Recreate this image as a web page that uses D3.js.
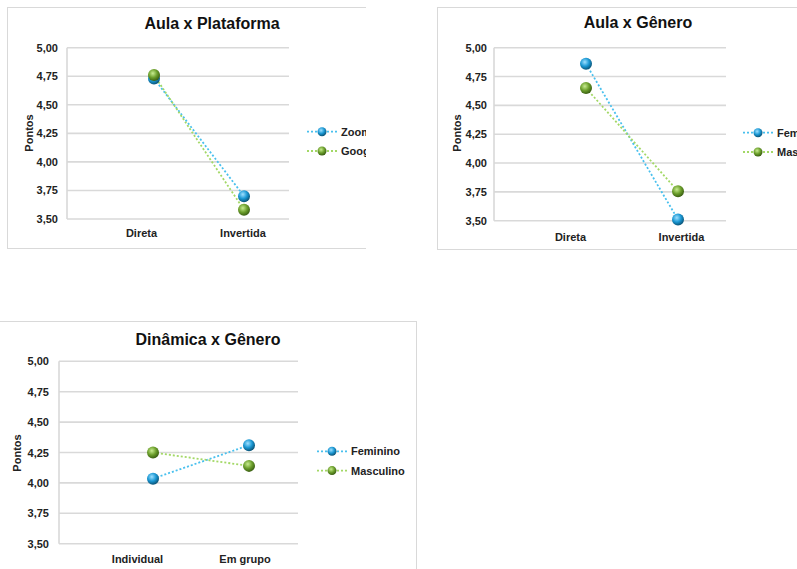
<!DOCTYPE html>
<html>
<head>
<meta charset="utf-8">
<script src="https://cdn.jsdelivr.net/npm/d3@7"></script>
<style>
  body { margin: 0; background: #fff; }
  svg { display: block; font-family: "Liberation Sans", Arial, sans-serif; }
</style>
</head>
<body>
<div id="chart"></div>
<script>
// dados
const yTicks = [3.5, 3.75, 4.0, 4.25, 4.5, 4.75, 5.0];

const aulaCats = ['Direta', 'Invertida'];
const dinCats = ['Individual', 'Em grupo'];

const plataformaNames = ['Zoom', 'Google Meet'];
const zoomVals = [4.73, 3.70];
const googleVals = [4.76, 3.58];

const generoNames = ['Feminino', 'Masculino'];
const femAula = [4.86, 3.51];
const mascAula = [4.65, 3.755];

const femDin = [4.035, 4.31];
const mascDin = [4.25, 4.14];

const W = 797, H = 569;
const fmt = d3.format('.2f');
const comma = (v) => fmt(v).replace('.', ',');

const svg = d3.select('#chart').append('svg')
    .attr('width', W)
    .attr('height', H);

// gradientes das esferas
const defs = svg.append('defs');
function sphere(id, hi, mid, lo) {
    const g = defs.append('radialGradient')
        .attr('id', id)
        .attr('cx', '40%').attr('cy', '35%').attr('r', '65%');
    g.append('stop').attr('offset', '0%').attr('stop-color', hi);
    g.append('stop').attr('offset', '55%').attr('stop-color', mid);
    g.append('stop').attr('offset', '100%').attr('stop-color', lo);
}
sphere('gBlue', '#9fe0ff', '#1b98d4', '#0a5478');
sphere('gGreen', '#c8ec90', '#6c9f2c', '#3a5f12');

const styles = [
    { line: '#49c0ee', fill: 'url(#gBlue)' },
    { line: '#a3d866', fill: 'url(#gGreen)' }
];

function drawChart(cfg, idx) {
    const clipId = 'clip' + idx;
    defs.append('clipPath').attr('id', clipId)
        .append('rect')
        .attr('x', cfg.clip[0]).attr('y', cfg.clip[1])
        .attr('width', cfg.clip[2]).attr('height', cfg.clip[3]);

    const g = svg.append('g').attr('clip-path', `url(#${clipId})`);

    // moldura
    g.append('rect')
        .attr('x', cfg.box[0] + 0.5).attr('y', cfg.box[1] + 0.5)
        .attr('width', cfg.box[2]).attr('height', cfg.box[3])
        .attr('fill', '#fff')
        .attr('stroke', '#d9d9d9');

    const y = d3.scaleLinear().domain([3.5, 5]).range([cfg.plot.bottom, cfg.plot.top]);
    const x = d3.scalePoint().domain(cfg.cats).range(cfg.pointX);
    const xLab = d3.scalePoint().domain(cfg.cats).range(cfg.labelX);

    // grade
    g.append('g').selectAll('line')
        .data(yTicks)
        .join('line')
        .attr('x1', cfg.plot.left).attr('x2', cfg.plot.right)
        .attr('y1', (d) => y(d)).attr('y2', (d) => y(d))
        .attr('stroke', '#d9d9d9')
        .attr('stroke-width', 1.6);

    g.append('line')
        .attr('x1', cfg.plot.left).attr('x2', cfg.plot.left)
        .attr('y1', cfg.plot.top).attr('y2', cfg.plot.bottom)
        .attr('stroke', '#d9d9d9')
        .attr('stroke-width', 1.6);

    // eixo Y
    const yAxis = g.append('g')
        .attr('transform', `translate(${cfg.plot.left},0)`)
        .call(d3.axisLeft(y).tickValues(yTicks).tickFormat(comma).tickSize(0).tickPadding(cfg.tickPad));
    yAxis.select('.domain').remove();
    yAxis.selectAll('text')
        .attr('font-size', 11)
        .attr('font-weight', 'bold')
        .attr('fill', '#222')
        .attr('font-family', '"Liberation Sans", Arial, sans-serif');

    // eixo X
    const xAxis = g.append('g')
        .attr('transform', `translate(0,${cfg.plot.bottom})`)
        .call(d3.axisBottom(xLab).tickSize(0).tickPadding(cfg.xPad));
    xAxis.select('.domain').remove();
    xAxis.selectAll('text')
        .attr('font-size', 11)
        .attr('font-weight', 'bold')
        .attr('fill', '#222')
        .attr('font-family', '"Liberation Sans", Arial, sans-serif');

    // título
    g.append('text')
        .attr('x', cfg.title[0]).attr('y', cfg.title[1])
        .attr('text-anchor', 'middle')
        .attr('font-size', 16)
        .attr('font-weight', 'bold')
        .attr('fill', '#111')
        .text(cfg.titleText);

    // título eixo Y
    g.append('text')
        .attr('transform', `translate(${cfg.yTitle[0]},${cfg.yTitle[1]}) rotate(-90)`)
        .attr('text-anchor', 'middle')
        .attr('font-size', 11)
        .attr('font-weight', 'bold')
        .attr('fill', '#222')
        .text('Pontos');

    const line = d3.line().x((d, i) => x(cfg.cats[i])).y((d) => y(d));

    cfg.series.forEach((s, si) => {
        g.append('path')
            .datum(s)
            .attr('d', line)
            .attr('fill', 'none')
            .attr('stroke', styles[si].line)
            .attr('stroke-width', 1.8)
            .attr('stroke-dasharray', '2,2');
    });
    cfg.series.forEach((s, si) => {
        g.append('g').selectAll('circle')
            .data(s)
            .join('circle')
            .attr('cx', (d, i) => x(cfg.cats[i]))
            .attr('cy', (d) => y(d))
            .attr('r', 6)
            .attr('fill', styles[si].fill);
    });

    // legenda
    const leg = g.append('g')
        .attr('transform', `translate(${cfg.legend[0]},${cfg.legend[1]})`);
    cfg.names.forEach((n, i) => {
        const row = leg.append('g').attr('transform', `translate(0,${i * 19.3})`);
        row.append('line')
            .attr('x1', -15).attr('x2', 15)
            .attr('stroke', styles[i].line)
            .attr('stroke-width', 1.8)
            .attr('stroke-dasharray', '2,2');
        row.append('circle')
            .attr('r', 4.5)
            .attr('fill', styles[i].fill);
        row.append('text')
            .attr('x', 19).attr('y', 4)
            .attr('font-size', 11)
            .attr('font-weight', 'bold')
            .attr('fill', '#222')
            .text(n);
    });
}

drawChart({
    clip: [0, 0, 366, 260],
    box: [7, 7, 420, 241],
    plot: { left: 67, right: 289, top: 47.7, bottom: 219 },
    cats: aulaCats,
    pointX: [154, 244],
    labelX: [141, 242.5],
    tickPad: 9, xPad: 10,
    title: [212, 29], titleText: 'Aula x Plataforma',
    yTitle: [33, 133],
    series: [zoomVals, googleVals],
    names: plataformaNames,
    legend: [322, 131.7]
}, 1);

drawChart({
    clip: [430, 0, 367, 260],
    box: [437, 7, 420, 242],
    plot: { left: 494, right: 726, top: 47.7, bottom: 220.7 },
    cats: aulaCats,
    pointX: [586, 678],
    labelX: [570, 681],
    tickPad: 7, xPad: 13,
    title: [638, 28], titleText: 'Aula x Gênero',
    yTitle: [461, 133],
    series: [femAula, mascAula],
    names: generoNames,
    legend: [758, 132.7]
}, 2);

drawChart({
    clip: [0, 315, 420, 254],
    box: [-1, 321, 417, 300],
    plot: { left: 59, right: 298, top: 361.3, bottom: 543.7 },
    cats: dinCats,
    pointX: [153, 249],
    labelX: [137, 244.5],
    tickPad: 10, xPad: 12,
    title: [208, 345], titleText: 'Dinâmica x Gênero',
    yTitle: [21, 453],
    series: [femDin, mascDin],
    names: generoNames,
    legend: [332, 451.3]
}, 3);
</script>
</body>
</html>
